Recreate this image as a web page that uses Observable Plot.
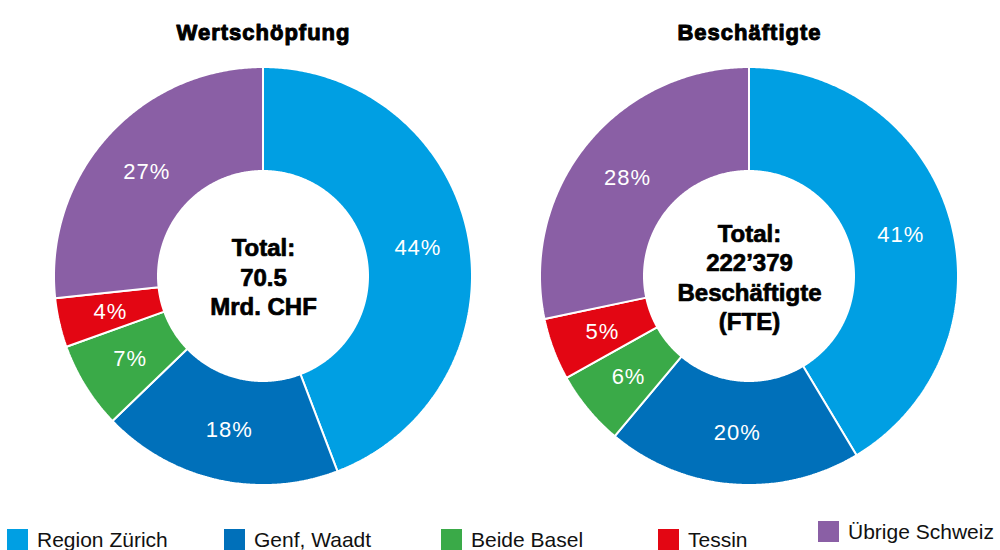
<!DOCTYPE html>
<html>
<head>
<meta charset="utf-8">
<script src="https://cdn.jsdelivr.net/npm/d3@7"></script>
<script src="https://cdn.jsdelivr.net/npm/@observablehq/plot@0.6"></script>
<style>
  html, body { margin: 0; padding: 0; background: #fff; }
  #root { position: relative; width: 1000px; height: 550px; overflow: hidden; font-family: "Liberation Sans", Arial, sans-serif; }
  .chart { position: absolute; top: 0; }
  .leg { position: absolute; display: flex; align-items: center; font-size: 21px; color: #111; line-height: 21px; white-space: nowrap; }
  .leg .sw { width: 21px; height: 21px; margin-right: 9px; flex: none; }
</style>
</head>
<body>
<div id="root"></div>
<script>
// ---- data ----
const categories = ["Region Zürich", "Genf, Waadt", "Beide Basel", "Tessin", "Übrige Schweiz"];
const colors = ["#009fe3", "#0070ba", "#3aaa48", "#e30613", "#8a5fa5"];
const titles = ["Wertschöpfung", "Beschäftigte"];
const wertschoepfung = [44.2, 18.6, 6.7, 3.8, 26.7];
const beschaeftigte = [41.4, 19.7, 5.8, 4.8, 28.3];
const wertLabels = ["44%", "18%", "7%", "4%", "27%"];
const beschLabels = ["41%", "20%", "6%", "5%", "28%"];
const centerTexts = ["Total:\n70.5\nMrd. CHF", "Total:\n222’379\nBeschäftigte\n(FTE)"];

// ---- geometry ----
const R = 209, r = 105, rl = 157;
const W = 486, H = 520, CY = 276;

function build(values, labels) {
  const total = d3.sum(values);
  let acc = 0;
  const pts = [], labs = [];
  values.forEach((v, i) => {
    const a0 = acc / total * 2 * Math.PI;
    const a1 = (acc + v) / total * 2 * Math.PI;
    acc += v;
    const n = Math.max(2, Math.ceil((a1 - a0) / (Math.PI / 360)));
    for (let k = 0; k <= n; k++) pts.push({cat: categories[i], a: a0 + (a1 - a0) * k / n});
    labs.push({cat: categories[i], a: (a0 + a1) / 2, text: labels[i]});
  });
  return {pts, labs};
}

function donut(values, labels, title, center) {
  const {pts, labs} = build(values, labels);
  const svg = Plot.plot({
    width: W, height: H, margin: 0,
    x: {domain: [-W / 2, W / 2], axis: null},
    y: {domain: [CY - H, CY], axis: null},
    color: {domain: categories, range: colors},
    style: {fontFamily: '"Liberation Sans", Arial, sans-serif', background: "transparent"},
    marks: [
      Plot.area(pts, {
        x1: d => R * Math.sin(d.a), y1: d => R * Math.cos(d.a),
        x2: d => r * Math.sin(d.a), y2: d => r * Math.cos(d.a),
        fill: "cat", z: "cat", stroke: "white", strokeWidth: 2, strokeLinejoin: "miter"
      }),
      Plot.text(labs, {
        x: d => rl * Math.sin(d.a), y: d => rl * Math.cos(d.a),
        text: "text", fill: "white", fontSize: 22
      }),
      Plot.text([center], {
        x: () => 0, y: () => 0, text: d => d, fontSize: 24, fontWeight: "bold",
        fill: "black", stroke: "black", strokeWidth: 0.7, lineHeight: 1.23,
        textAnchor: "middle", lineAnchor: "middle"
      }),
      Plot.text([title], {
        frameAnchor: "top", dy: 24, text: d => d, fontSize: 22, fontWeight: "bold",
        fill: "black", stroke: "black", strokeWidth: 1
      })
    ]
  });
  d3.select(svg).selectAll("text").each(function () {
    const t = this.textContent;
    if (t === title) this.style.letterSpacing = "1px";
    else if (t.endsWith("%")) this.style.letterSpacing = "1px";
  });
  return svg;
}

const root = document.getElementById("root");
const left = donut(wertschoepfung, wertLabels, titles[0], centerTexts[0]);
left.classList.add("chart"); left.style.left = "20px";
const right = donut(beschaeftigte, beschLabels, titles[1], centerTexts[1]);
right.classList.add("chart"); right.style.left = "506px";
root.appendChild(left); root.appendChild(right);

// ---- legend ----
const legX = [7, 224, 441, 658, 818];
const legY = [529, 529, 529, 529, 521];
categories.forEach((c, i) => {
  const el = document.createElement("div");
  el.className = "leg";
  el.style.left = legX[i] + "px";
  el.style.top = legY[i] + "px";
  const sw = document.createElement("span");
  sw.className = "sw"; sw.style.background = colors[i];
  const tx = document.createElement("span");
  tx.textContent = c;
  el.appendChild(sw); el.appendChild(tx);
  root.appendChild(el);
});
</script>
</body>
</html>
